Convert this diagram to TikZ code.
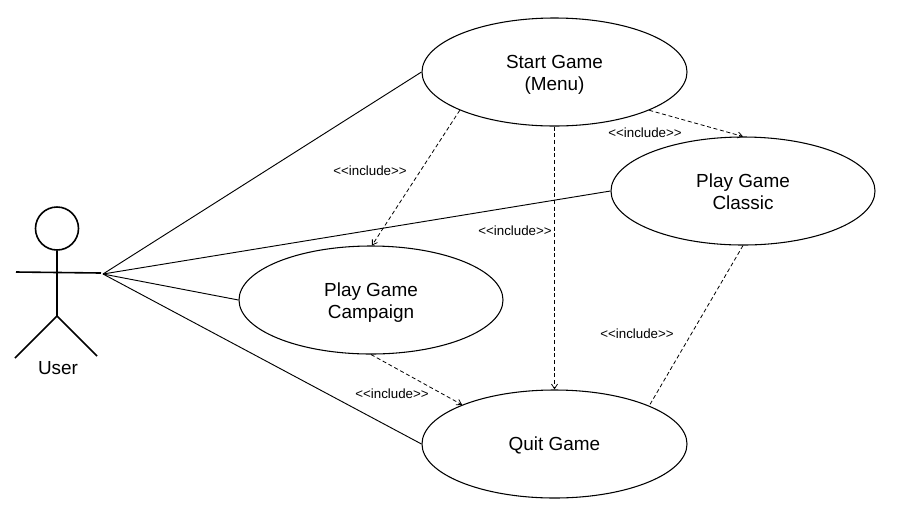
\documentclass[tikz,border=0pt]{standalone}
\usepackage{fontspec}
\setmainfont{Liberation Sans}
\usetikzlibrary{shapes.geometric,arrows.meta}
\newlength{\upx}\setlength{\upx}{0.75pt}
\newcommand{\incltext}{\char60\kern0pt\char60 include\char62\kern0pt\char62}
\tikzset{
  usecase/.style={draw,ellipse,minimum width=265\upx,minimum height=108\upx,inner sep=0pt,align=center,font=\fontsize{14.2}{16.5}\selectfont,line width=0.8pt},
  assoc/.style={line width=0.7pt},
  incl/.style={dash pattern=on 3pt off 2pt,line width=0.6pt,-{Straight Barb[length=3.5pt,width=4.5pt]}},
  inclplain/.style={dash pattern=on 3pt off 2pt,line width=0.6pt},
  incllabel/.style={inner sep=0pt,font=\fontsize{10}{11}\selectfont},
  actorline/.style={line width=1.2pt},
}
\begin{document}
\begin{tikzpicture}[x=\upx,y=-\upx]
\useasboundingbox (0,0) rectangle (899,526);
\fill[white] (0,0) rectangle (899,526);
\node[usecase] (start) at (554.5,72) {\rule{0pt}{14.8pt}Start Game\\(Menu)};
\node[usecase,minimum width=264\upx] (classic) at (743,191) {\rule{0pt}{11.8pt}Play Game\\Classic};
\node[usecase,minimum width=264\upx] (camp) at (371,300) {\rule{0pt}{14.8pt}Play Game\\Campaign};
\node[usecase] (quit) at (554.5,444) {\rule{0pt}{11.8pt}Quit Game};
\node[draw,circle,actorline,minimum size=43\upx,inner sep=0pt] (head) at (57,228.5) {};
\coordinate (hip) at (57,316);
\coordinate (armL) at (16,272);
\coordinate (armR) at (101,273);
\coordinate (legL) at (15,358);
\coordinate (legR) at (97,356);
\draw[actorline] (head.south) -- (hip);
\draw[actorline] (armL) -- (armR);
\draw[actorline] (hip) -- (legL);
\draw[actorline] (hip) -- (legR);
\node[inner sep=0pt,font=\fontsize{14.2}{16}\selectfont] (user) at (58,368) {User};
\coordinate (a) at (103,274);
\draw[assoc] (a) -- (start.west);
\draw[assoc] (a) -- (classic.west);
\draw[assoc] (a) -- (camp.west);
\draw[assoc] (a) -- (quit.west);
\draw[incl] (start.202) -- (camp.89);
\draw[incl] (start.south) -- (quit.north);
\draw[incl] (start.-22) -- (classic.north);
\draw[incl] (camp.south) -- (quit.157);
\draw[inclplain] (classic.south) -- (quit.22);
\node[incllabel] (l1) at (370,171) {\incltext};
\node[incllabel] (l2) at (645,133) {\incltext};
\node[incllabel] (l3) at (515,231) {\incltext};
\node[incllabel] (l4) at (637,334) {\incltext};
\node[incllabel] (l5) at (392,394) {\incltext};
\end{tikzpicture}
\end{document}
